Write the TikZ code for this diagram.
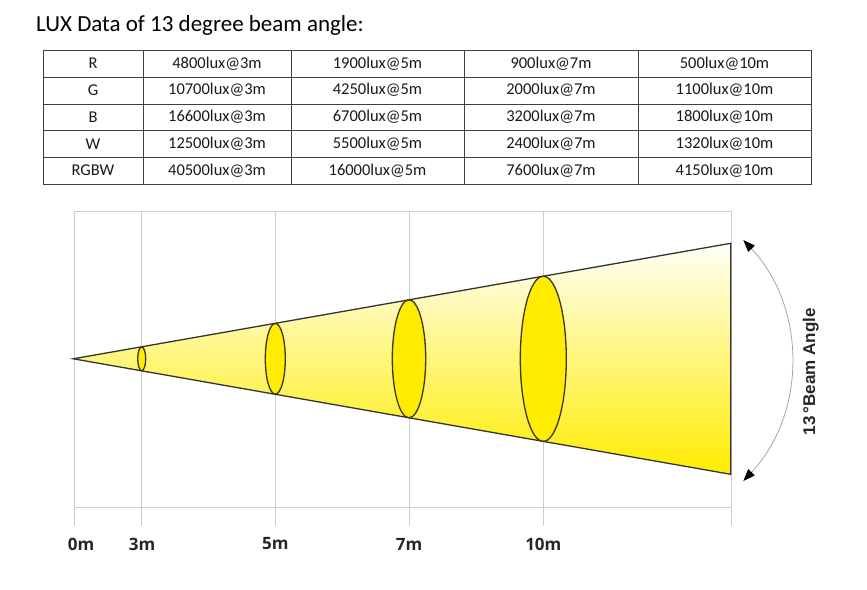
\documentclass[tikz,border=0pt]{standalone}
\usepackage{fontspec}
\setmainfont{Carlito}
\newfontfamily\axisfont{Open Sans}
\newfontfamily\anglefont{Liberation Sans}
\usetikzlibrary{arrows.meta, positioning, calc}

\definecolor{gridgray}{RGB}{205,205,205}
\definecolor{beamyellow}{RGB}{255,236,0}
\definecolor{rimcolor}{RGB}{60,55,25}

\tikzset{
  cell/.style={inner sep=0pt, font=\fontsize{16.5}{18}\selectfont, text=black!90},
  tableline/.style={draw=black!75, line width=0.9pt},
  gridline/.style={draw=gridgray, line width=0.9pt},
  ring/.style={draw=rimcolor, line width=1.3pt, fill=beamyellow},
  beamline/.style={draw=black!80, line width=1.3pt},
  axislabel/.style={inner sep=0pt, font=\axisfont\bfseries\fontsize{17}{19}\selectfont, text=black!85},
}

\begin{document}
\begin{tikzpicture}[x=1pt, y=-1pt, >=Stealth]
    \useasboundingbox (0,0) rectangle (867,589);

    \node[anchor=base west, inner sep=0pt, font=\fontsize{23}{27}\selectfont] (title) at (36,31) {LUX Data of 13 degree beam angle:};

    % table
    \draw[tableline] (43,50) rectangle (811,184);
    \foreach \x in {143,291,464,638}
        \draw[tableline] (\x,50) -- (\x,184);
    \foreach \y in {77,104,130,157}
        \draw[tableline] (43,\y) -- (811,\y);

    \foreach \lbl/\a/\b/\c/\d [count=\r] in {R/4800/1900/900/500, G/10700/4250/2000/1100, B/16600/6700/3200/1800, W/12500/5500/2400/1320, RGBW/40500/16000/7600/4150} {
        \pgfmathsetmacro{\yy}{50+26.8*(\r-0.5)}
        \node[cell] (row\r) at (93,\yy) {\lbl};
        \node[cell] (row\r a) at (217,\yy) {\a lux@3m};
        \node[cell] (row\r b) at (377.5,\yy) {\b lux@5m};
        \node[cell] (row\r c) at (551,\yy) {\c lux@7m};
        \node[cell] (row\r d) at (724.5,\yy) {\d lux@10m};
    }

    % grid
    \draw[gridline] (74,211) -- (731,211);
    \draw[gridline] (74,507) -- (731,507);
    \foreach \x in {74,141.7,275.3,409,543.3,731}
        \draw[gridline] (\x,211) -- (\x,526);

    % beam
    \coordinate (apex) at (73.3,358.8);
    \coordinate (beamtop) at (730.7,243.3);
    \coordinate (beambot) at (730.7,474.3);
    \shade[top color=yellow!3, bottom color=beamyellow] (apex) -- (beamtop) -- (beambot) -- cycle;
    \foreach \x/\rx/\ry in {141.7/4/11.9, 275.3/10/35.4, 409/16.7/59, 543.3/23/82.6}
        \draw[ring] (\x,358.8) ellipse [x radius=\rx, y radius=\ry];
    \draw[beamline] (beamtop) -- (apex) -- (beambot) -- cycle;

    \foreach \x/\t in {81/0m, 142/3m, 275.3/5m, 409/7m, 543.3/10m}
        \node[axislabel] (lbl\t) at (\x,544) {\t};

    % beam angle
    \coordinate (arcA) at (743.3,240);
    \coordinate (arcB) at (743.3,481);
    \draw[gray!70, line width=0.8pt, {Triangle[length=12pt, width=9pt, color=black]}-{Triangle[length=12pt, width=9pt, color=black]}]
        (arcA) .. controls (806.8,307.5) and (806.8,413.5) .. (arcB);
    \node[rotate=90, inner sep=0pt, font=\anglefont\bfseries\fontsize{17}{20}\selectfont, text=black!85] (anglelbl) at (810.7,371.7) {13\,°Beam Angle};
\end{tikzpicture}
\end{document}
